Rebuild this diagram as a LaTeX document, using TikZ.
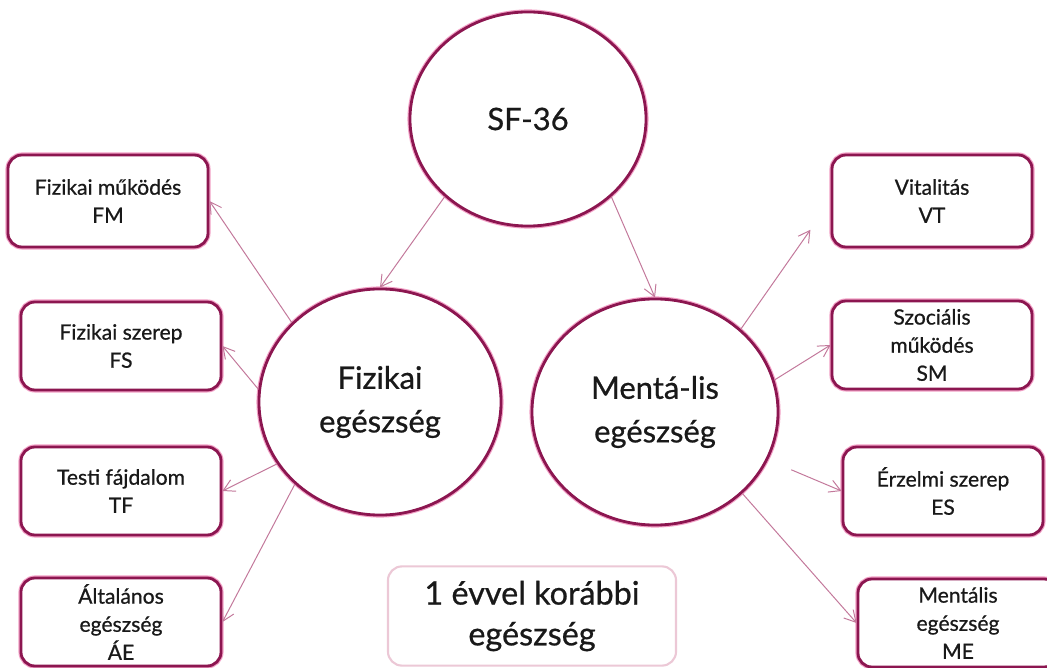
\documentclass[tikz,border=0pt]{standalone}
\usepackage{fontspec}
\setmainfont{Lato}[FakeBold=0.7]
\usetikzlibrary{shapes.geometric,arrows.meta}
\definecolor{keret}{RGB}{140,22,80}
\definecolor{fenyes}{RGB}{242,160,198}
\definecolor{nyilszin}{RGB}{195,120,155}
\definecolor{halvany}{RGB}{236,200,214}
\definecolor{betu}{RGB}{25,25,25}

\begin{document}
\begin{tikzpicture}[x=0.025cm, y=-0.025cm,
  kor/.style={ellipse, draw=keret, line width=2pt,
    preaction={draw=fenyes, line width=3.6pt}, fill=white, text=betu,
    align=center, inner sep=0pt, font=\fontsize{22}{31}\selectfont},
  doboz/.style={rectangle, rounded corners=10pt, draw=keret, line width=2pt,
    preaction={draw=fenyes, line width=3.6pt}, fill=white, text=betu,
    minimum width=5cm, minimum height=2.2cm, align=center,
    font=\fontsize{15}{20}\selectfont},
  nyil/.style={-{Straight Barb[length=8pt,width=9pt]}, draw=nyilszin, line width=0.7pt}]

  \fill[white] (0,0) rectangle (1047,668);
  \useasboundingbox (0,0) rectangle (1047,668);

  % circles
  \node[kor, minimum width=5.9cm, minimum height=5.35cm] (sf) at (528,119) {SF-36};
  \node[kor, minimum width=6.05cm, minimum height=5.65cm] (fiz) at (380,402) {Fizikai\\egészség};
  \node[kor, minimum width=6.15cm, minimum height=5.65cm] (ment) at (655,412) {Mentá-lis\\egészség};

  % left boxes
  \node[doboz, minimum height=2.3cm] (fm) at (108,201) {Fizikai működés\\FM};
  \node[doboz] (fs) at (121,346) {Fizikai szerep\\FS};
  \node[doboz] (tf) at (121,491) {Testi fájdalom\\TF};
  \node[doboz] (ae) at (121,622) {Általános\\egészség\\ÁE};

  % right boxes
  \node[doboz, minimum height=2.3cm] (vt) at (932,201) {Vitalitás\\VT};
  \node[doboz] (sm) at (932,345) {Szociális\\működés\\SM};
  \node[doboz] (es) at (943,491) {Érzelmi szerep\\ES};
  \node[doboz] (me) at (958,623) {Mentális\\egészség\\ME};

  % bottom box
  \node[rectangle, rounded corners=10pt, draw=halvany, line width=1.5pt, fill=white,
    text=betu, minimum width=7.2cm, minimum height=2.48cm, align=center,
    font=\fontsize{23}{29}\selectfont] (prev) at (532,616) {1 évvel korábbi\\egészség};

  % arrows
  \draw[nyil] (sf.223) -- (fiz.north);
  \draw[nyil] (sf.-43) -- (ment.north);
  \draw[nyil] (fiz.138) -- (fm.east);
  \draw[nyil] (fiz.174) -- (fs.east);
  \draw[nyil] (fiz.211) -- (tf.east);
  \draw[nyil] (fiz.224) -- (ae.east);
  \draw[nyil, shorten >=25pt] (ment.44) -- (vt.west);
  \draw[nyil] (ment.15) -- (sm.west);
  \draw[nyil, shorten <=18pt] (ment.-23) -- (es.west);
  \draw[nyil] (ment.-43) -- (me.west);
\end{tikzpicture}
\end{document}
